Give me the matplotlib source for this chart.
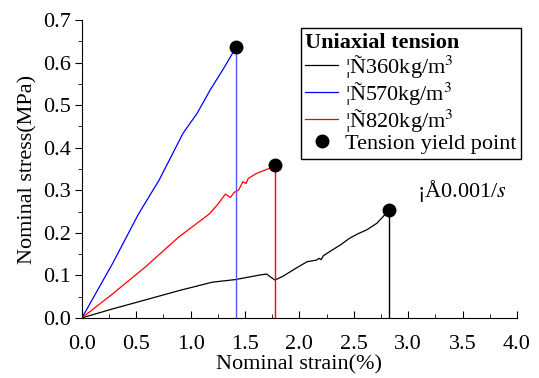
import matplotlib.pyplot as plt
from matplotlib.ticker import MultipleLocator

plt.rcParams['font.family'] = ['Liberation Serif', 'DejaVu Serif']
plt.rcParams['mathtext.fontset'] = 'stix'

# rho = 360 kg/m3
strain_360 = [0.0, 0.28, 0.58, 0.89, 1.20, 1.41, 1.64, 1.70, 1.73, 1.775, 1.85,
              1.97, 2.07, 2.16, 2.18, 2.20, 2.22, 2.28, 2.38, 2.46, 2.54, 2.62, 2.71, 2.77, 2.82]
stress_360 = [0.0, 0.021, 0.042, 0.064, 0.084, 0.090, 0.101, 0.103, 0.097, 0.089, 0.098,
              0.117, 0.132, 0.136, 0.140, 0.137, 0.146, 0.156, 0.172, 0.187, 0.198, 0.207, 0.222, 0.238, 0.254]

# rho = 570 kg/m3
strain_570 = [0.0, 0.28, 0.52, 0.71, 0.93, 1.06, 1.18, 1.30, 1.42]
stress_570 = [0.0, 0.127, 0.244, 0.324, 0.434, 0.481, 0.536, 0.585, 0.637]

# rho = 820 kg/m3
strain_820 = [0.0, 0.28, 0.58, 0.89, 1.17, 1.24, 1.32, 1.365, 1.40, 1.44, 1.48, 1.51, 1.53,
              1.61, 1.73, 1.775]
stress_820 = [0.0, 0.056, 0.119, 0.190, 0.244, 0.264, 0.291, 0.283, 0.295, 0.300, 0.320, 0.316, 0.328,
              0.340, 0.352, 0.359]

labels = [r'¦Ñ360kg/m$^3$', r'¦Ñ570kg/m$^3$', r'¦Ñ820kg/m$^3$']
colors = ['black', 'blue', 'red']
vline_colors = ['black', '#5555ff', 'red']

yield_strain = [2.82, 1.42, 1.775]
yield_stress = [0.254, 0.637, 0.359]

fig = plt.figure(figsize=(5.39, 3.78), dpi=100)
ax = fig.add_axes([0.152, 0.159, 0.807, 0.788])

series = [(strain_360, stress_360), (strain_570, stress_570), (strain_820, stress_820)]
for (x, y), c, lab in zip(series, colors, labels):
    ax.plot(x, y, color=c, lw=0.9, label=lab)

for xs, ys, c in zip(yield_strain, yield_stress, vline_colors):
    ax.plot([xs, xs], [0, ys], color=c, lw=1.0)
ax.plot(yield_strain, yield_stress, 'o', color='black', ms=9, ls='none',
        label='Tension yield point', zorder=5)

ax.set_xlim(0, 4.0)
ax.set_ylim(0, 0.7)
ax.xaxis.set_major_locator(MultipleLocator(0.5))
ax.xaxis.set_minor_locator(MultipleLocator(0.25))
ax.yaxis.set_major_locator(MultipleLocator(0.1))
ax.yaxis.set_minor_locator(MultipleLocator(0.05))
ax.xaxis.set_major_formatter(lambda v, p: f'{v:.1f}')
ax.yaxis.set_major_formatter(lambda v, p: f'{v:.1f}')
ax.spines['top'].set_visible(False)
ax.spines['right'].set_visible(False)
ax.tick_params(axis='x', direction='in', labelsize=16, length=5, pad=12)
ax.tick_params(axis='x', which='minor', direction='in', length=3)
ax.tick_params(axis='y', direction='out', labelsize=16, length=5, pad=3)
ax.tick_params(axis='y', which='minor', direction='out', length=3)

ax.set_xlabel('Nominal strain(%)', fontsize=16, labelpad=1)
ax.set_ylabel('Nominal stress(MPa)', fontsize=16, labelpad=4)

ax.text(3.08, 0.285, r'¡Å0.001/$s$', fontsize=16)

leg = ax.legend(loc='upper right', bbox_to_anchor=(1.025, 0.995), fontsize=16,
                title='Uniaxial tension', title_fontproperties={'weight': 'bold', 'size': 16},
                fancybox=False, edgecolor='black', framealpha=1, borderpad=0.2,
                handlelength=1.5, handletextpad=0.3, labelspacing=0.0, alignment='left',
                borderaxespad=0.3)
leg.get_frame().set_linewidth(1.0)

fig.savefig('out.png', dpi=100)
